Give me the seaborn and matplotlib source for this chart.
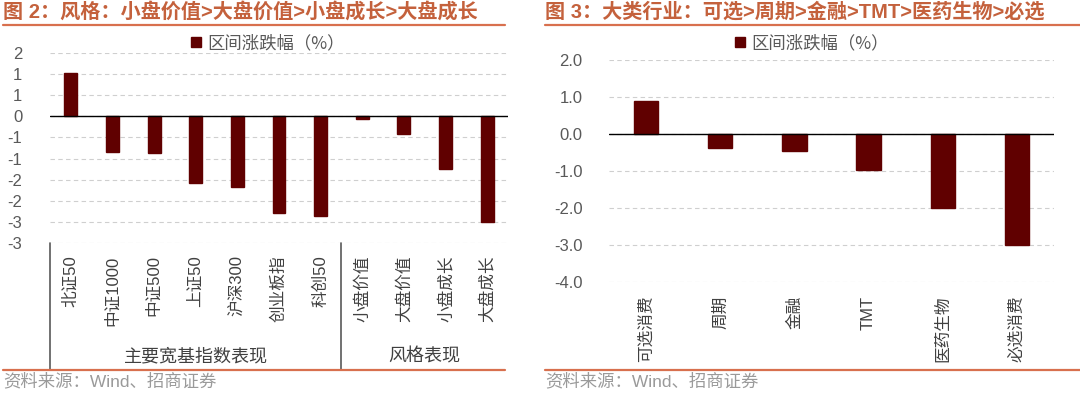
import numpy as np
import pandas as pd
import matplotlib
matplotlib.use("Agg")
import matplotlib.pyplot as plt
import matplotlib.transforms as mtransforms
from matplotlib.patches import Patch
from matplotlib.ticker import FuncFormatter, MultipleLocator
import seaborn as sns

# data
left_cats = ["北证50", "中证1000", "中证500", "上证50", "沪深300", "创业板指", "科创50",
             "小盘价值", "大盘价值", "小盘成长", "大盘成长"]
left_vals = [1.03, -0.85, -0.87, -1.57, -1.68, -2.29, -2.36, -0.06, -0.42, -1.25, -2.51]
left_groups = ["主要宽基指数表现", "风格表现"]
left_group_sizes = [7, 4]

right_cats = ["可选消费", "周期", "金融", "TMT", "医药生物", "必选消费"]
right_vals = [0.90, -0.38, -0.45, -0.98, -1.99, -2.99]

left_title = "图 2：风格：小盘价值>大盘价值>小盘成长>大盘成长"
right_title = "图 3：大类行业：可选>周期>金融>TMT>医药生物>必选"
legend_label = "区间涨跌幅（%）"
source = "资料来源：Wind、招商证券"

sns.set_theme(style="white")
plt.rcParams['font.family'] = ['Liberation Sans', 'Noto Sans CJK SC']
plt.rcParams['axes.unicode_minus'] = False

W, H = 1080, 393
bar_color = "#600000"
accent = "#D8704E"
title_color = "#C4613C"
tick_color = "#595959"
cjk_first = ['Noto Sans CJK SC', 'Liberation Sans']

fig = plt.figure(figsize=(W / 100, H / 100), dpi=100)


def px_axes(x0, y0, x1, y1):
    # axes from pixel box (top-left origin)
    return fig.add_axes([x0 / W, 1 - y1 / H, (x1 - x0) / W, (y1 - y0) / H])


def style_axis(ax, ymin, ymax, step, fmt, ypad):
    ax.set_ylim(ymin, ymax)
    ax.yaxis.set_major_locator(MultipleLocator(step))
    ax.yaxis.set_major_formatter(FuncFormatter(fmt))
    ax.yaxis.grid(True, linestyle=(0, (4, 3)), color="#cfcfcf", lw=0.8)
    ax.set_axisbelow(True)
    ax.axhline(0, color="black", lw=1.0, zorder=3)
    for s in ax.spines.values():
        s.set_visible(False)
    ax.set_xlabel("")
    ax.set_ylabel("")
    ax.tick_params(axis="y", length=0, pad=ypad, labelsize=12, labelcolor=tick_color)
    ax.tick_params(axis="x", length=0, labelrotation=90, labelsize=12, labelcolor="#404040")


def frame(x0, x1, title):
    fig.text(x0 / W, 1 - 12 / H, title, ha="left", va="center", fontsize=14.5,
             fontweight="bold", color=title_color)
    fig.add_artist(plt.Line2D([x0 / W, x1 / W], [1 - 25 / H, 1 - 25 / H], color=accent, lw=1.6))
    fig.add_artist(plt.Line2D([x0 / W, x1 / W], [1 - 369.5 / H, 1 - 369.5 / H], color=accent, lw=1.6))
    fig.text(x0 / W, 1 - 381 / H, source, ha="left", va="center", fontsize=12.5, color="#9a9a9a")


def legend(cx):
    fig.legend(handles=[Patch(facecolor=bar_color, edgecolor=bar_color)], labels=[legend_label],
               loc="center", bbox_to_anchor=(cx / W, 1 - 43 / H), frameon=False,
               prop={"family": cjk_first, "size": 12.5}, handlelength=0.55, handleheight=0.55,
               handletextpad=0.4, labelcolor=tick_color)


def round_half(v, pos):
    return str(int(np.sign(v) * np.floor(abs(v) + 0.5)))


# left chart
df_left = pd.DataFrame({"cat": left_cats, "val": left_vals})
ax1 = px_axes(50, 53, 508, 243)
sns.barplot(data=df_left, x="cat", y="val", color=bar_color, width=0.31, saturation=1,
            edgecolor=bar_color, ax=ax1)
style_axis(ax1, -3, 1.5, 0.5, round_half, 20)
ax1.tick_params(axis="x", pad=9)

# multi-level category axis
trans = mtransforms.blended_transform_factory(ax1.transData, fig.transFigure)
start = -0.5
for name, n in zip(left_groups, left_group_sizes):
    ax1.add_line(plt.Line2D([start, start], [1 - 243 / H, 1 - 369 / H], transform=trans,
                            color="#595959", lw=1.2, clip_on=False))
    ax1.text(start + n / 2, 1 - 357 / H, name, transform=trans,
             ha="center", va="center", fontsize=13, color="#404040")
    start += n

frame(3, 505, left_title)
legend(268)

# right chart
df_right = pd.DataFrame({"cat": right_cats, "val": right_vals})
ax2 = px_axes(609, 60, 1054, 282)
sns.barplot(data=df_right, x="cat", y="val", color=bar_color, width=0.33, saturation=1,
            edgecolor=bar_color, ax=ax2)
style_axis(ax2, -4, 2, 1, lambda v, p: f"{v:.1f}", 19)
ax2.tick_params(axis="x", pad=10)

frame(545, 1080, right_title)
legend(812)

fig.savefig("out.png", dpi=100)
